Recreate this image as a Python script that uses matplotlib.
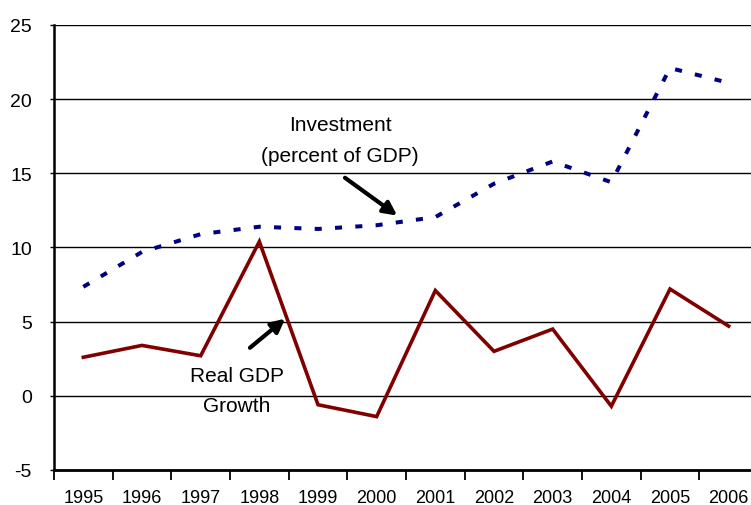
import matplotlib
matplotlib.use("Agg")
import matplotlib.pyplot as plt

years = ["1995", "1996", "1997", "1998", "1999", "2000",
         "2001", "2002", "2003", "2004", "2005", "2006"]
gdp_growth = [2.6, 3.4, 2.7, 10.4, -0.6, -1.4, 7.1, 3.0, 4.5, -0.7, 7.2, 4.7]
investment = [7.35, 9.7, 10.9, 11.4, 11.25, 11.5, 12.05, 14.3, 15.8, 14.4, 22.1, 21.1]
y_ticks = [-5, 0, 5, 10, 15, 20, 25]

plt.rcParams['font.family'] = ['Liberation Sans', 'DejaVu Sans']

fig = plt.figure(figsize=(7.51, 5.06), dpi=100)
# axes runs a little past the right edge of the picture, as in the original
ax = fig.add_axes([54 / 751, 1 - 471 / 506, 704 / 751, 445 / 506])

x = list(range(len(years)))
ax.plot(x, investment, color='#000080', lw=2.9, linestyle=(0, (1.75, 3.3)),
        dash_capstyle='butt', zorder=3)
ax.plot(x, gdp_growth, color='#800000', lw=2.6, solid_joinstyle='miter', zorder=3)

ax.set_xlim(-0.5, len(years) - 0.5)
ax.set_ylim(-5, 25)
ax.set_yticks(y_ticks)
ax.set_yticklabels([str(v) for v in y_ticks], fontsize=14)
ax.set_xticks(x)
ax.set_xticklabels(years, fontsize=13)
ax.set_xticks([i + 0.5 for i in range(-1, len(years))], minor=True)

ax.tick_params(axis='x', which='major', length=0, pad=13.5)
ax.tick_params(axis='x', which='minor', length=7, width=1.3, direction='out')
ax.tick_params(axis='y', length=3, width=1, direction='out', pad=13)

for v in y_ticks[1:]:
    ax.axhline(v, color='black', lw=1, zorder=1)

for side in ['top', 'right']:
    ax.spines[side].set_visible(False)
ax.spines['left'].set_linewidth(1.8)
ax.spines['bottom'].set_linewidth(2)

ax.text(4.38, 17.25, "Investment\n(percent of GDP)", ha='center', va='center',
        fontsize=15, linespacing=1.75)
ax.annotate("", xy=(5.35, 12.15), xytext=(4.46, 14.7),
            arrowprops=dict(arrowstyle='-|>', color='black', lw=3,
                            mutation_scale=20, shrinkA=0, shrinkB=0))

ax.text(2.62, 0.35, "Real GDP\nGrowth", ha='center', va='center',
        fontsize=15, linespacing=1.75)
ax.annotate("", xy=(3.44, 5.2), xytext=(2.84, 3.24),
            arrowprops=dict(arrowstyle='-|>', color='black', lw=3,
                            mutation_scale=20, shrinkA=0, shrinkB=0))

fig.savefig("out.png", dpi=100)
